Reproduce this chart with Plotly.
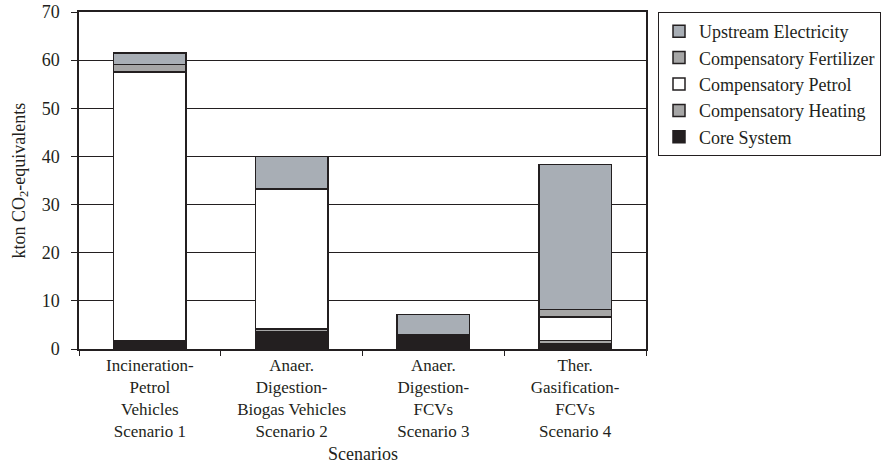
import plotly.graph_objects as go

# Scenario labels (x categories)
scenarios = [
    "Incineration-<br>Petrol<br>Vehicles<br>Scenario 1",
    "Anaer.<br>Digestion-<br>Biogas Vehicles<br>Scenario 2",
    "Anaer.<br>Digestion-<br>FCVs<br>Scenario 3",
    "Ther.<br>Gasification-<br>FCVs<br>Scenario 4",
]

# Emission contributions, kton CO2-equivalents (stacked bottom to top)
core_system = [1.8, 3.5, 2.2, 1.1]
comp_heating = [0.0, 0.7, 0.3, 0.7]
comp_petrol = [55.7, 29.0, 0.0, 4.8]
comp_fertilizer = [1.6, 0.0, 0.4, 1.6]
upstream_electricity = [2.4, 6.8, 4.3, 30.1]

y_ticks = [0, 10, 20, 30, 40, 50, 60, 70]

INK = "#231f20"
FONT = "Liberation Serif"
W, H = 896, 464
ML, MR, MT, MB = 79, 250, 12, 115

series = [
    ("Core System", core_system, INK),
    ("Compensatory Heating", comp_heating, "#a6a6a6"),
    ("Compensatory Petrol", comp_petrol, "#ffffff"),
    ("Compensatory Fertilizer", comp_fertilizer, "#a6a6a6"),
    ("Upstream Electricity", upstream_electricity, "#a8aeb5"),
]

fig = go.Figure()
for name, vals, color in series:
    fig.add_trace(go.Bar(
        name=name, x=scenarios, y=vals,
        marker=dict(color=color, line=dict(color=INK, width=1.5)),
        width=0.51,
    ))

plot_w = W - ML - MR
plot_h = H - MT - MB

fig.update_layout(
    barmode="stack",
    width=W, height=H,
    margin=dict(l=ML, r=MR, t=MT, b=MB, autoexpand=False),
    paper_bgcolor="white", plot_bgcolor="white",
    font=dict(family=FONT, size=18, color=INK),
    legend=dict(
        x=(658 - ML) / plot_w, y=1.0, xanchor="left", yanchor="top",
        bordercolor=INK, borderwidth=1, bgcolor="white",
        font=dict(family=FONT, size=18, color=INK),
        traceorder="reversed",
        itemwidth=30,
        tracegroupgap=0,
    ),
    xaxis=dict(
        type="category", automargin=False,
        showline=True, linecolor=INK, linewidth=1.5, mirror=True,
        ticks="outside", tickson="boundaries", ticklen=5, tickcolor=INK,
        tickfont=dict(family=FONT, size=17, color=INK),
    ),
    yaxis=dict(
        range=[0, 70], tickvals=y_ticks, automargin=False,
        showline=True, linecolor=INK, linewidth=1.5, mirror=True,
        showgrid=True, gridcolor=INK, gridwidth=1,
        ticks="outside", ticklen=6, tickcolor=INK,
        ticklabelstandoff=8,
        tickfont=dict(family=FONT, size=18, color=INK),
        zeroline=False,
    ),
    annotations=[
        dict(text="Scenarios", xref="paper", yref="paper",
             x=0.5, y=-(454 - MT - plot_h) / plot_h,
             xanchor="center", yanchor="middle", showarrow=False,
             font=dict(family=FONT, size=18, color=INK)),
        dict(text="kton CO<sub>2</sub>-equivalents", xref="paper", yref="paper",
             x=-(ML - 20) / plot_w, y=0.5, textangle=-90,
             xanchor="center", yanchor="middle", showarrow=False,
             font=dict(family=FONT, size=18, color=INK)),
    ],
)

fig.write_html("out.html")
